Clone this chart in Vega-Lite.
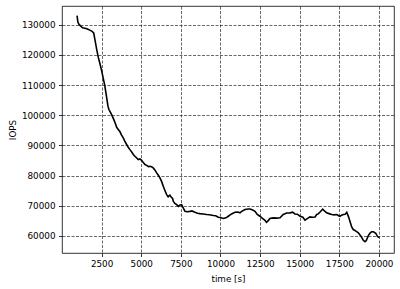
{
  "$schema": "https://vega.github.io/schema/vega-lite/v6.json",
  "width": 332,
  "height": 247,
  "autosize": "none",
  "padding": {"left": 62, "top": 6, "right": 6, "bottom": 36},
  "background": "white",
  "config": {
    "view": {"stroke": "black", "strokeWidth": 0.8},
    "axis": {
      "labelFont": "DejaVu Sans",
      "titleFont": "DejaVu Sans",
      "labelFontSize": 8.8,
      "titleFontSize": 8.8,
      "titleFontWeight": "normal",
      "labelColor": "black",
      "titleColor": "black",
      "tickColor": "black",
      "tickSize": 3.5,
      "tickWidth": 0.8,
      "domain": false,
      "grid": true,
      "gridColor": "black",
      "gridDash": [3, 1.5],
      "gridWidth": 0.7,
      "gridOpacity": 0.85
    }
  },
  "data": {
    "values": [
      {"t": 950, "iops": 133000}, {"t": 1000, "iops": 131000}, {"t": 1050, "iops": 130300},
      {"t": 1150, "iops": 129700}, {"t": 1300, "iops": 129000}, {"t": 1450, "iops": 128800},
      {"t": 1600, "iops": 128600}, {"t": 1750, "iops": 128200}, {"t": 1900, "iops": 127800},
      {"t": 2000, "iops": 127300}, {"t": 2080, "iops": 125000}, {"t": 2200, "iops": 121500},
      {"t": 2300, "iops": 119000}, {"t": 2400, "iops": 117000}, {"t": 2500, "iops": 114800},
      {"t": 2600, "iops": 112300}, {"t": 2700, "iops": 109800}, {"t": 2800, "iops": 106500},
      {"t": 2900, "iops": 103000}, {"t": 2960, "iops": 101900}, {"t": 3050, "iops": 101000},
      {"t": 3130, "iops": 100200}, {"t": 3250, "iops": 98800}, {"t": 3350, "iops": 97500},
      {"t": 3450, "iops": 96000}, {"t": 3550, "iops": 95300}, {"t": 3650, "iops": 94600},
      {"t": 3750, "iops": 93500}, {"t": 3865, "iops": 92500}, {"t": 3970, "iops": 91300},
      {"t": 4078, "iops": 90300}, {"t": 4180, "iops": 89400}, {"t": 4287, "iops": 88600},
      {"t": 4400, "iops": 87800}, {"t": 4500, "iops": 87000}, {"t": 4600, "iops": 86400},
      {"t": 4700, "iops": 85900}, {"t": 4810, "iops": 85300}, {"t": 4920, "iops": 85500},
      {"t": 5025, "iops": 85070}, {"t": 5130, "iops": 84300}, {"t": 5233, "iops": 83640},
      {"t": 5350, "iops": 83400}, {"t": 5450, "iops": 83000}, {"t": 5550, "iops": 83100},
      {"t": 5650, "iops": 82900}, {"t": 5757, "iops": 82550}, {"t": 5870, "iops": 81800},
      {"t": 5972, "iops": 80900}, {"t": 6080, "iops": 80100}, {"t": 6180, "iops": 79240},
      {"t": 6290, "iops": 78000}, {"t": 6390, "iops": 76460}, {"t": 6500, "iops": 75000},
      {"t": 6603, "iops": 73700}, {"t": 6700, "iops": 73000}, {"t": 6810, "iops": 73500},
      {"t": 6900, "iops": 72800}, {"t": 6980, "iops": 72400}, {"t": 7020, "iops": 71500},
      {"t": 7120, "iops": 70800}, {"t": 7234, "iops": 70400}, {"t": 7350, "iops": 69800},
      {"t": 7450, "iops": 70300}, {"t": 7550, "iops": 70400}, {"t": 7650, "iops": 69300},
      {"t": 7760, "iops": 68150}, {"t": 7900, "iops": 68000}, {"t": 8074, "iops": 68150},
      {"t": 8200, "iops": 68300}, {"t": 8390, "iops": 67850}, {"t": 8550, "iops": 67500},
      {"t": 8706, "iops": 67400}, {"t": 8900, "iops": 67300}, {"t": 9130, "iops": 67100},
      {"t": 9300, "iops": 67000}, {"t": 9550, "iops": 66760}, {"t": 9700, "iops": 66700},
      {"t": 9860, "iops": 66200}, {"t": 10000, "iops": 66100}, {"t": 10180, "iops": 65770},
      {"t": 10350, "iops": 66000}, {"t": 10490, "iops": 66530}, {"t": 10700, "iops": 67300},
      {"t": 10910, "iops": 67850}, {"t": 11100, "iops": 67900}, {"t": 11230, "iops": 67650},
      {"t": 11340, "iops": 68150}, {"t": 11550, "iops": 68750}, {"t": 11760, "iops": 68950},
      {"t": 11860, "iops": 68950}, {"t": 12000, "iops": 68700}, {"t": 12180, "iops": 68150},
      {"t": 12320, "iops": 67100}, {"t": 12490, "iops": 66530}, {"t": 12650, "iops": 65800},
      {"t": 12810, "iops": 65200}, {"t": 12900, "iops": 64500}, {"t": 13000, "iops": 65000},
      {"t": 13120, "iops": 65800}, {"t": 13330, "iops": 66000}, {"t": 13550, "iops": 65900},
      {"t": 13760, "iops": 66000}, {"t": 13960, "iops": 67100}, {"t": 14180, "iops": 67600},
      {"t": 14390, "iops": 67650}, {"t": 14550, "iops": 67900}, {"t": 14700, "iops": 67300},
      {"t": 14850, "iops": 67200}, {"t": 15020, "iops": 66530}, {"t": 15200, "iops": 66200},
      {"t": 15330, "iops": 65200}, {"t": 15500, "iops": 65800}, {"t": 15650, "iops": 66300},
      {"t": 15800, "iops": 66200}, {"t": 15970, "iops": 66300}, {"t": 16070, "iops": 67100},
      {"t": 16170, "iops": 67300}, {"t": 16300, "iops": 68000}, {"t": 16450, "iops": 68900},
      {"t": 16580, "iops": 68200}, {"t": 16700, "iops": 67650}, {"t": 16850, "iops": 67400},
      {"t": 17020, "iops": 67100}, {"t": 17180, "iops": 67000}, {"t": 17340, "iops": 67100},
      {"t": 17450, "iops": 66700}, {"t": 17540, "iops": 66530}, {"t": 17650, "iops": 66900},
      {"t": 17750, "iops": 67100}, {"t": 17870, "iops": 67200}, {"t": 17970, "iops": 67850},
      {"t": 18070, "iops": 66500}, {"t": 18170, "iops": 64870}, {"t": 18280, "iops": 63000},
      {"t": 18380, "iops": 62120}, {"t": 18550, "iops": 61600}, {"t": 18700, "iops": 61020},
      {"t": 18850, "iops": 60000}, {"t": 19010, "iops": 58570}, {"t": 19120, "iops": 58100},
      {"t": 19200, "iops": 58500}, {"t": 19330, "iops": 60100}, {"t": 19450, "iops": 61000},
      {"t": 19550, "iops": 61400}, {"t": 19650, "iops": 61400}, {"t": 19800, "iops": 60900},
      {"t": 19900, "iops": 59900}, {"t": 20000, "iops": 59400}
    ]
  },
  "mark": {"type": "line", "color": "black", "strokeWidth": 1.6, "clip": true},
  "encoding": {
    "x": {
      "field": "t",
      "type": "quantitative",
      "scale": {"domain": [0, 20950], "nice": false, "zero": false},
      "axis": {
        "title": "time [s]",
        "values": [2500, 5000, 7500, 10000, 12500, 15000, 17500, 20000],
        "format": "d",
        "labelPadding": 3,
        "titlePadding": 6
      }
    },
    "y": {
      "field": "iops",
      "type": "quantitative",
      "scale": {"domain": [54350, 136200], "nice": false, "zero": false},
      "axis": {
        "title": "IOPS",
        "values": [60000, 70000, 80000, 90000, 100000, 110000, 120000, 130000],
        "format": "d",
        "labelPadding": 3.5,
        "titlePadding": 4
      }
    }
  }
}
